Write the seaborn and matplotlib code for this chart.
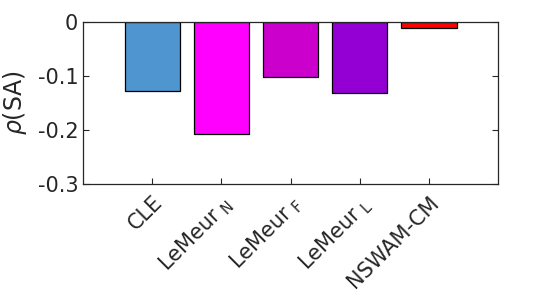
import pandas as pd
import matplotlib
matplotlib.use("Agg")
import matplotlib.pyplot as plt
import seaborn as sns

# Datos
metodos = ["CLE", "LeMeur$\\;_{\\mathregular{N}}$", "LeMeur$\\;_{\\mathregular{F}}$",
           "LeMeur$\\;_{\\mathregular{L}}$", "NSWAM-CM"]
rho_sa = [-0.128, -0.207, -0.101, -0.131, -0.011]
colores = ["#4f96d0", "#ff00ff", "#cc00cc", "#9400d3", "#ff0000"]
yticks = [0, -0.1, -0.2, -0.3]
ytick_labels = ["0", "-0.1", "-0.2", "-0.3"]

df = pd.DataFrame({"metodo": metodos, "rho": rho_sa})

sns.set_theme(style="white")
plt.rcParams["font.family"] = ["DejaVu Sans"]
plt.rcParams["mathtext.fontset"] = "dejavusans"

fig = plt.figure(figsize=(5.5, 2.97), dpi=100)
ax = fig.add_axes([0.151, 0.3805, 0.7545, 0.5455])

sns.barplot(ax=ax, data=df, x="metodo", y="rho", hue="metodo", palette=colores,
            legend=False, width=0.8, edgecolor="black", linewidth=0.9, saturation=1)

ax.set_xlim(-1, 5)
ax.set_ylim(-0.3, 0)
ax.set_yticks(yticks)
ax.set_yticklabels(ytick_labels)
ax.set_xlabel("")
ax.set_ylabel(r"$\rho$(SA)", fontsize=17, color="#262626", labelpad=6)

for s in ax.spines.values():
    s.set_visible(True)
    s.set_color("#262626")
    s.set_linewidth(0.9)

ax.tick_params(axis="both", direction="in", length=4, width=0.8, colors="#262626",
               labelsize=15, top=True, right=True, bottom=True, left=True)
ax.tick_params(axis="x", pad=6)
ax.set_xticks(range(len(metodos)))
ax.set_xticklabels(metodos, rotation=45, ha="right", rotation_mode="anchor")

fig.savefig("out.png", dpi=100)
